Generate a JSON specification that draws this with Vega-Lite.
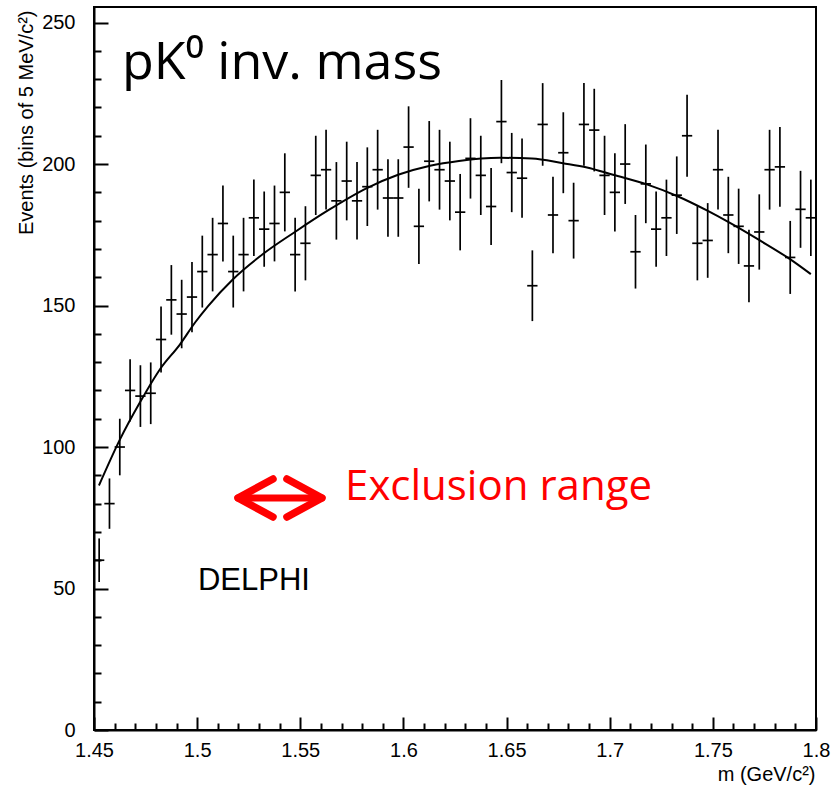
{
  "$schema": "https://vega.github.io/schema/vega-lite/v6.json",
  "width": 722,
  "height": 723,
  "autosize": {"type": "none"},
  "padding": {"left": 94, "top": 7, "right": 16, "bottom": 56},
  "background": "white",
  "config": {
    "view": {"stroke": "black", "strokeWidth": 2},
    "axis": {
      "labelFont": "Liberation Sans",
      "titleFont": "Liberation Sans",
      "labelColor": "black",
      "titleColor": "black",
      "domainColor": "black",
      "tickColor": "black",
      "domainWidth": 2,
      "grid": false,
      "labelFontWeight": "normal",
      "titleFontWeight": "normal",
      "labelOverlap": false,
      "labelFlush": false,
      "labelFontSize": 20,
      "titleFontSize": 20,
      "tickWidth": 2
    }
  },
  "datasets": {
    "hist": [
      {"m": 1.4525, "n": 60, "lo": 52.3, "hi": 67.7},
      {"m": 1.4575, "n": 80, "lo": 71.1, "hi": 88.9},
      {"m": 1.4625, "n": 100, "lo": 90.0, "hi": 110.0},
      {"m": 1.4675, "n": 120, "lo": 109.0, "hi": 131.0},
      {"m": 1.4725, "n": 118, "lo": 107.1, "hi": 128.9},
      {"m": 1.4775, "n": 119, "lo": 108.1, "hi": 129.9},
      {"m": 1.4825, "n": 138, "lo": 126.3, "hi": 149.7},
      {"m": 1.4875, "n": 152, "lo": 139.7, "hi": 164.3},
      {"m": 1.4925, "n": 147, "lo": 134.9, "hi": 159.1},
      {"m": 1.4975, "n": 153, "lo": 140.6, "hi": 165.4},
      {"m": 1.5025, "n": 162, "lo": 149.3, "hi": 174.7},
      {"m": 1.5075, "n": 168, "lo": 155.0, "hi": 181.0},
      {"m": 1.5125, "n": 179, "lo": 165.6, "hi": 192.4},
      {"m": 1.5175, "n": 162, "lo": 149.3, "hi": 174.7},
      {"m": 1.5225, "n": 168, "lo": 155.0, "hi": 181.0},
      {"m": 1.5275, "n": 181, "lo": 167.5, "hi": 194.5},
      {"m": 1.5325, "n": 177, "lo": 163.7, "hi": 190.3},
      {"m": 1.5375, "n": 179, "lo": 165.6, "hi": 192.4},
      {"m": 1.5425, "n": 190, "lo": 176.2, "hi": 203.8},
      {"m": 1.5475, "n": 168, "lo": 155.0, "hi": 181.0},
      {"m": 1.5525, "n": 172, "lo": 158.9, "hi": 185.1},
      {"m": 1.5575, "n": 196, "lo": 182.0, "hi": 210.0},
      {"m": 1.5625, "n": 198, "lo": 183.9, "hi": 212.1},
      {"m": 1.5675, "n": 187, "lo": 173.3, "hi": 200.7},
      {"m": 1.5725, "n": 194, "lo": 180.1, "hi": 207.9},
      {"m": 1.5775, "n": 187, "lo": 173.3, "hi": 200.7},
      {"m": 1.5825, "n": 192, "lo": 178.1, "hi": 205.9},
      {"m": 1.5875, "n": 198, "lo": 183.9, "hi": 212.1},
      {"m": 1.5925, "n": 188, "lo": 174.3, "hi": 201.7},
      {"m": 1.5975, "n": 188, "lo": 174.3, "hi": 201.7},
      {"m": 1.6025, "n": 206, "lo": 191.6, "hi": 220.4},
      {"m": 1.6075, "n": 178, "lo": 164.7, "hi": 191.3},
      {"m": 1.6125, "n": 201, "lo": 186.8, "hi": 215.2},
      {"m": 1.6175, "n": 198, "lo": 183.9, "hi": 212.1},
      {"m": 1.6225, "n": 194, "lo": 180.1, "hi": 207.9},
      {"m": 1.6275, "n": 183, "lo": 169.5, "hi": 196.5},
      {"m": 1.6325, "n": 202, "lo": 187.8, "hi": 216.2},
      {"m": 1.6375, "n": 196, "lo": 182.0, "hi": 210.0},
      {"m": 1.6425, "n": 185, "lo": 171.4, "hi": 198.6},
      {"m": 1.6475, "n": 215, "lo": 200.3, "hi": 229.7},
      {"m": 1.6525, "n": 197, "lo": 183.0, "hi": 211.0},
      {"m": 1.6575, "n": 195, "lo": 181.0, "hi": 209.0},
      {"m": 1.6625, "n": 157, "lo": 144.5, "hi": 169.5},
      {"m": 1.6675, "n": 214, "lo": 199.4, "hi": 228.6},
      {"m": 1.6725, "n": 182, "lo": 168.5, "hi": 195.5},
      {"m": 1.6775, "n": 204, "lo": 189.7, "hi": 218.3},
      {"m": 1.6825, "n": 180, "lo": 166.6, "hi": 193.4},
      {"m": 1.6875, "n": 214, "lo": 199.4, "hi": 228.6},
      {"m": 1.6925, "n": 212, "lo": 197.4, "hi": 226.6},
      {"m": 1.6975, "n": 196, "lo": 182.0, "hi": 210.0},
      {"m": 1.7025, "n": 190, "lo": 176.2, "hi": 203.8},
      {"m": 1.7075, "n": 200, "lo": 185.9, "hi": 214.1},
      {"m": 1.7125, "n": 169, "lo": 156.0, "hi": 182.0},
      {"m": 1.7175, "n": 193, "lo": 179.1, "hi": 206.9},
      {"m": 1.7225, "n": 177, "lo": 163.7, "hi": 190.3},
      {"m": 1.7275, "n": 181, "lo": 167.5, "hi": 194.5},
      {"m": 1.7325, "n": 189, "lo": 175.3, "hi": 202.7},
      {"m": 1.7375, "n": 210, "lo": 195.5, "hi": 224.5},
      {"m": 1.7425, "n": 172, "lo": 158.9, "hi": 185.1},
      {"m": 1.7475, "n": 173, "lo": 159.8, "hi": 186.2},
      {"m": 1.7525, "n": 198, "lo": 183.9, "hi": 212.1},
      {"m": 1.7575, "n": 182, "lo": 168.5, "hi": 195.5},
      {"m": 1.7625, "n": 178, "lo": 164.7, "hi": 191.3},
      {"m": 1.7675, "n": 164, "lo": 151.2, "hi": 176.8},
      {"m": 1.7725, "n": 176, "lo": 162.7, "hi": 189.3},
      {"m": 1.7775, "n": 198, "lo": 183.9, "hi": 212.1},
      {"m": 1.7825, "n": 199, "lo": 184.9, "hi": 213.1},
      {"m": 1.7875, "n": 167, "lo": 154.1, "hi": 179.9},
      {"m": 1.7925, "n": 184, "lo": 170.4, "hi": 197.6},
      {"m": 1.7975, "n": 181, "lo": 167.5, "hi": 194.5}
    ],
    "fit": [
      {"m": 1.4524, "f": 86.4},
      {"m": 1.4626, "f": 102.7},
      {"m": 1.4723, "f": 115.8},
      {"m": 1.482, "f": 127.5},
      {"m": 1.4917, "f": 136.3},
      {"m": 1.499, "f": 144.0},
      {"m": 1.5053, "f": 149.8},
      {"m": 1.5174, "f": 159.3},
      {"m": 1.5319, "f": 168.2},
      {"m": 1.5474, "f": 176.0},
      {"m": 1.5634, "f": 183.6},
      {"m": 1.5823, "f": 191.5},
      {"m": 1.5974, "f": 196.2},
      {"m": 1.6129, "f": 199.4},
      {"m": 1.6269, "f": 201.1},
      {"m": 1.6468, "f": 202.2},
      {"m": 1.6623, "f": 202.0},
      {"m": 1.6773, "f": 200.3},
      {"m": 1.689, "f": 198.8},
      {"m": 1.7016, "f": 196.2},
      {"m": 1.718, "f": 192.8},
      {"m": 1.7326, "f": 188.7},
      {"m": 1.7471, "f": 183.6},
      {"m": 1.7583, "f": 179.2},
      {"m": 1.7728, "f": 173.0},
      {"m": 1.7874, "f": 166.4},
      {"m": 1.7975, "f": 161.1}
    ],
    "arrow": [{"a": 1.5198, "b": 1.5605, "y": 82}]
  },
  "layer": [
    {
      "data": {"name": "hist"},
      "mark": {"type": "rule", "strokeWidth": 1.7, "color": "black"},
      "encoding": {
        "x": {
          "field": "m", "type": "quantitative",
          "scale": {"domain": [1.45, 1.8], "nice": false, "zero": false},
          "axis": {
            "title": "m (GeV/c²)",
            "values": [1.45,1.46,1.47,1.48,1.49,1.5,1.51,1.52,1.53,1.54,1.55,1.56,1.57,1.58,1.59,1.6,1.61,1.62,1.63,1.64,1.65,1.66,1.67,1.68,1.69,1.7,1.71,1.72,1.73,1.74,1.75,1.76,1.77,1.78,1.79,1.8],
            "tickCount": 200,
            "labelExpr": "abs(round(datum.value*100) % 5) == 0 ? format(datum.value, '~g') : ''",
            "tickSize": {"condition": {"test": "abs(round(datum.value*100) % 5) == 0", "value": -13}, "value": -7},
            "labelPadding": 23,
            "labelOverlap": false,
            "titleAnchor": "end",
            "titleAlign": "right",
            "titleX": 721,
            "titleY": 50,
            "titleBaseline": "alphabetic"
          }
        },
        "y": {
          "field": "lo", "type": "quantitative",
          "scale": {"domain": [0, 255.5], "nice": false, "zero": true},
          "axis": {
            "title": "Events (bins of 5 MeV/c²)",
            "values": [0,10,20,30,40,50,60,70,80,90,100,110,120,130,140,150,160,170,180,190,200,210,220,230,240,250],
            "tickCount": 200,
            "labelExpr": "datum.value % 50 == 0 ? datum.label : ''",
            "tickSize": {"condition": {"test": "datum.value % 50 == 0", "value": -14}, "value": -7},
            "labelPadding": 33,
            "labelOverlap": false,
            "titleAnchor": "end",
            "titleAlign": "right",
            "titleAngle": 270,
            "titleX": -62,
            "titleY": 3,
            "titleBaseline": "alphabetic"
          }
        },
        "y2": {"field": "hi"}
      }
    },
    {
      "data": {"name": "hist"},
      "mark": {"type": "tick", "orient": "horizontal", "size": 10.3, "thickness": 1.7, "color": "black", "opacity": 1},
      "encoding": {
        "x": {"field": "m", "type": "quantitative"},
        "y": {"field": "n", "type": "quantitative"}
      }
    },
    {
      "data": {"name": "fit"},
      "mark": {"type": "line", "color": "black", "strokeWidth": 2, "interpolate": "monotone"},
      "encoding": {
        "x": {"field": "m", "type": "quantitative"},
        "y": {"field": "f", "type": "quantitative"}
      }
    },
    {
      "data": {"name": "arrow"},
      "mark": {"type": "rule", "color": "#ff0000", "strokeWidth": 7, "strokeCap": "round"},
      "encoding": {
        "x": {"field": "a", "type": "quantitative"},
        "x2": {"field": "b"},
        "y": {"field": "y", "type": "quantitative"}
      }
    },
    {
      "data": {"name": "arrow"},
      "mark": {"type": "point", "shape": "M1.75,-0.95L0,0L1.75,0.95", "size": 1600, "filled": false, "stroke": "#ff0000", "strokeWidth": 7.5, "strokeCap": "round", "strokeJoin": "round", "opacity": 1},
      "encoding": {
        "x": {"field": "a", "type": "quantitative"},
        "y": {"field": "y", "type": "quantitative"}
      }
    },
    {
      "data": {"name": "arrow"},
      "mark": {"type": "point", "shape": "M-1.75,-0.95L0,0L-1.75,0.95", "size": 1600, "filled": false, "stroke": "#ff0000", "strokeWidth": 7.5, "strokeCap": "round", "strokeJoin": "round", "opacity": 1},
      "encoding": {
        "x": {"field": "b", "type": "quantitative"},
        "y": {"field": "y", "type": "quantitative"}
      }
    },
    {
      "data": {"values": [{"x": 1.4636, "y": 230, "t": "pK⁰ inv. mass"}]},
      "mark": {"type": "text", "font": "Open Sans", "fontSize": 52, "align": "left", "baseline": "alphabetic", "color": "black"},
      "encoding": {
        "x": {"field": "x", "type": "quantitative"},
        "y": {"field": "y", "type": "quantitative"},
        "text": {"field": "t"}
      }
    },
    {
      "data": {"values": [{"x": 1.5717, "y": 81.3, "t": "Exclusion range"}]},
      "mark": {"type": "text", "font": "Open Sans", "fontSize": 42, "align": "left", "baseline": "alphabetic", "color": "#ff0000"},
      "encoding": {
        "x": {"field": "x", "type": "quantitative"},
        "y": {"field": "y", "type": "quantitative"},
        "text": {"field": "t"}
      }
    },
    {
      "data": {"values": [{"x": 1.5004, "y": 49.5, "t": "DELPHI"}]},
      "mark": {"type": "text", "font": "Liberation Sans", "fontSize": 31, "align": "left", "baseline": "alphabetic", "color": "black"},
      "encoding": {
        "x": {"field": "x", "type": "quantitative"},
        "y": {"field": "y", "type": "quantitative"},
        "text": {"field": "t"}
      }
    }
  ]
}
